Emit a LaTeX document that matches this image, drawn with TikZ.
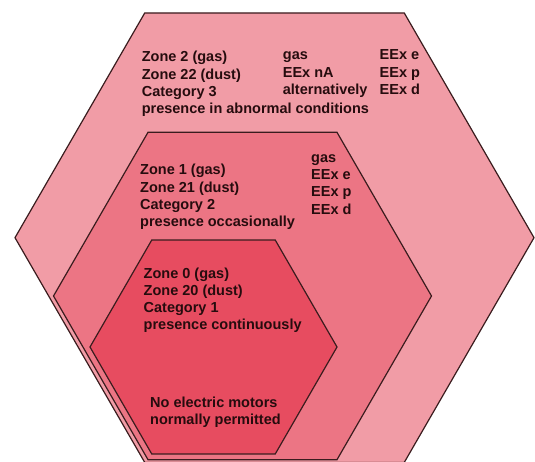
\documentclass[tikz,border=0pt]{standalone}
\usepackage{fontspec}
\setmainfont{Liberation Sans}
\usepackage{tikz}
\usetikzlibrary{positioning, shapes.geometric}

\definecolor{zonetwofill}{RGB}{241,156,166}
\definecolor{zoneonefill}{RGB}{236,117,132}
\definecolor{zonezerofill}{RGB}{231,76,96}
\definecolor{zoneedge}{RGB}{58,28,30}
\definecolor{zoneink}{RGB}{38,12,14}

\begin{document}
\begin{tikzpicture}[
        x=1pt, y=-1pt,
        zone/.style={
            regular polygon,
            regular polygon sides=6,
            draw=zoneedge,
            line width=1.2pt,
            inner sep=0pt
        },
        % base is the baseline of the last line
        zonetext/.style={
            anchor=base west,
            align=left,
            inner sep=0pt,
            text=zoneink,
            font=\fontsize{14.5}{17.2}\selectfont\bfseries
        }
    ]
        \useasboundingbox (0,0) rectangle (535,462);

        % Zones
        \node [zone, fill=zonetwofill, minimum size=519pt] (zonetwo) at (274.5,237.7) {};
        \node [zone, fill=zoneonefill, minimum size=378pt] (zoneone) at (242.5,296) {};
        \node [zone, fill=zonezerofill, minimum size=247pt] (zonezero) at (213.5,347) {};

        % Texts
        \node [zonetext] (twotext) at (141.6,113.6) {Zone 2 (gas)\\Zone 22 (dust)\\Category 3\\presence in abnormal conditions};
        \node [zonetext] (twogas) at (282.7,94.4) {gas\\EEx nA\\alternatively};
        \node [zonetext] (twoeex) at (379.5,94.4) {EEx e\\EEx p\\EEx d};

        \node [zonetext] (onetext) at (140,226.6) {Zone 1 (gas)\\Zone 21 (dust)\\Category 2\\presence occasionally};
        \node [zonetext] (oneeex) at (311,214.1) {gas\\EEx e\\EEx p\\EEx d};

        \node [zonetext] (zerotext) at (143.5,329.9) {Zone 0 (gas)\\Zone 20 (dust)\\Category 1\\presence continuously};
        \node [zonetext] (motors) at (150,424.9) {No electric motors\\normally permitted};
    \end{tikzpicture}
\end{document}
